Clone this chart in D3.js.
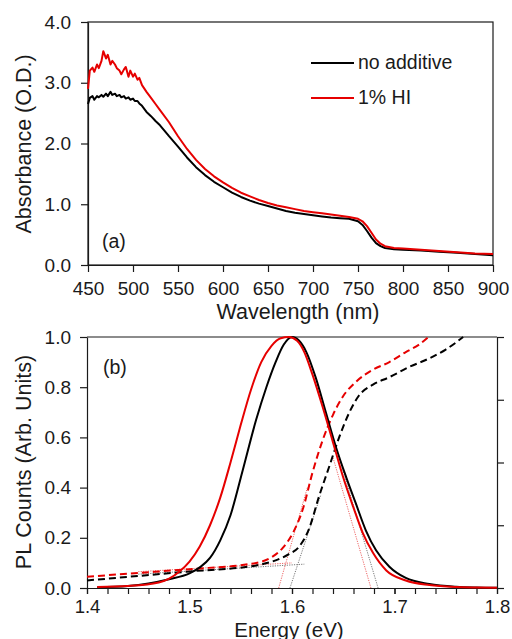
<!DOCTYPE html>
<html>
<head>
<meta charset="utf-8">
<script src="https://cdn.jsdelivr.net/npm/d3@7"></script>
<style>
	body { margin: 0; background: #fff; }
	svg text { font-family: "Liberation Sans", Arial, sans-serif; fill: #1a1a1a; }
	.axis path, .axis line { stroke: #1a1a1a; stroke-width: 1.2; }
</style>
</head>
<body>
<svg id="chart" width="512" height="639"></svg>
<script>
// ---- panel (a): absorbance vs wavelength ----
var wavelength = [450, 452, 455, 457, 460, 462, 465, 467, 470, 472, 475, 477, 480, 482, 485, 487, 490, 492, 495, 497,
	500, 502, 505, 507, 510, 515, 520, 525, 530, 540, 550, 560, 570, 580, 590, 600, 610, 620, 630, 640,
	650, 660, 670, 680, 690, 700, 710, 720, 730, 740, 750, 755, 760, 765, 770, 775, 780, 790, 800, 820,
	840, 860, 880, 900];
var absNoAdditive = [2.65, 2.75, 2.78, 2.72, 2.78, 2.76, 2.80, 2.77, 2.82, 2.78, 2.85, 2.80, 2.82, 2.78, 2.80, 2.76, 2.78, 2.74, 2.76, 2.72,
	2.74, 2.70, 2.70, 2.66, 2.62, 2.52, 2.45, 2.37, 2.30, 2.12, 1.95, 1.77, 1.61, 1.48, 1.37, 1.28, 1.19, 1.12, 1.06, 1.01,
	0.97, 0.93, 0.89, 0.86, 0.84, 0.82, 0.80, 0.78, 0.77, 0.76, 0.72, 0.66, 0.56, 0.45, 0.36, 0.31, 0.28, 0.26, 0.25, 0.24,
	0.22, 0.20, 0.18, 0.16];
var absHI = [2.90, 3.20, 3.25, 3.18, 3.30, 3.24, 3.36, 3.52, 3.40, 3.46, 3.30, 3.36, 3.30, 3.24, 3.20, 3.14, 3.22, 3.26, 3.10, 3.20,
	3.10, 3.15, 3.05, 3.08, 2.96, 2.85, 2.75, 2.65, 2.55, 2.35, 2.12, 1.91, 1.73, 1.58, 1.46, 1.36, 1.27, 1.19, 1.13, 1.07,
	1.02, 0.98, 0.95, 0.92, 0.89, 0.87, 0.85, 0.83, 0.81, 0.79, 0.76, 0.72, 0.64, 0.53, 0.42, 0.35, 0.31, 0.28, 0.27, 0.25,
	0.23, 0.21, 0.19, 0.18];
var wlTicks = [450, 500, 550, 600, 650, 700, 750, 800, 850, 900];
var absTicks = [0, 1, 2, 3, 4];
var legendNames = ['no additive', '1% HI'];
var seriesColors = ['#000000', '#e60000'];

// ---- panel (b): PL (solid) and absorption (dashed) vs energy ----
var plEnergyBlack = [1.41, 1.44, 1.46, 1.48, 1.50, 1.51, 1.52, 1.53, 1.54, 1.552, 1.565, 1.575, 1.584, 1.592, 1.600,
	1.607, 1.614, 1.623, 1.633, 1.643, 1.653, 1.662, 1.672, 1.682, 1.695, 1.711, 1.734, 1.76, 1.78, 1.80];
var plBlack = [0.003, 0.008, 0.018, 0.035, 0.058, 0.082, 0.12, 0.19, 0.29, 0.47, 0.67, 0.80, 0.90, 0.97, 1.0,
	0.985, 0.94, 0.84, 0.70, 0.56, 0.44, 0.34, 0.23, 0.15, 0.085, 0.04, 0.016, 0.005, 0.002, 0.001];
var plEnergyRed = [1.41, 1.44, 1.47, 1.49, 1.50, 1.51, 1.52, 1.53, 1.54, 1.55, 1.56, 1.57, 1.58, 1.589, 1.597,
	1.605, 1.612, 1.62, 1.63, 1.64, 1.65, 1.66, 1.669, 1.679, 1.692, 1.711, 1.734, 1.76, 1.78, 1.80];
var plRed = [0.004, 0.008, 0.022, 0.065, 0.105, 0.165, 0.25, 0.36, 0.50, 0.65, 0.79, 0.90, 0.965, 0.995, 1.0,
	0.985, 0.94, 0.85, 0.72, 0.58, 0.44, 0.32, 0.22, 0.14, 0.07, 0.03, 0.012, 0.004, 0.002, 0.001];
var absEnergyBlack = [1.40, 1.45, 1.50, 1.565, 1.584, 1.597, 1.607, 1.617, 1.626, 1.636, 1.646, 1.656, 1.665, 1.679, 1.695,
	1.714, 1.734, 1.75, 1.767];
var absEdgeBlack = [0.03, 0.048, 0.066, 0.09, 0.11, 0.135, 0.165, 0.24, 0.36, 0.48, 0.60, 0.70, 0.765, 0.81, 0.84,
	0.88, 0.915, 0.95, 1.0];
var absEnergyRed = [1.40, 1.45, 1.50, 1.565, 1.581, 1.591, 1.601, 1.611, 1.62, 1.63, 1.64, 1.65, 1.662, 1.679, 1.695,
	1.711, 1.724, 1.733];
var absEdgeRed = [0.045, 0.06, 0.075, 0.10, 0.125, 0.16, 0.22, 0.32, 0.46, 0.59, 0.69, 0.765, 0.82, 0.87, 0.90,
	0.94, 0.97, 1.0];
// thin dotted fit lines: [E1, v1, E2, v2]
var fitLines = [
	{ pts: [1.45, 0.055, 1.612, 0.095], color: '#777' },
	{ pts: [1.45, 0.065, 1.600, 0.100], color: '#e66' },
	{ pts: [1.587, 0.0, 1.615, 0.40], color: '#e66' },
	{ pts: [1.598, 0.0, 1.628, 0.37], color: '#777' },
	{ pts: [1.677, 0.0, 1.640, 0.52], color: '#e66' },
	{ pts: [1.684, 0.0, 1.646, 0.52], color: '#777' }
];
var eMajor = [1.4, 1.5, 1.6, 1.7, 1.8];
var eMinor = d3.range(1.4, 1.8001, 0.02);
var plTicks = [0, 0.2, 0.4, 0.6, 0.8, 1.0];
var rightTicks = [0, 0.25, 0.5, 0.75, 1.0];

var svg = d3.select('#chart');

// ================= panel (a) =================
var xa = d3.scaleLinear().domain([450, 900]).range([88, 493]);
var ya = d3.scaleLinear().domain([0, 4]).range([265, 22]);

svg.append('rect').attr('x', 88).attr('y', 22).attr('width', 405).attr('height', 243)
	.attr('fill', 'none').attr('stroke', '#1a1a1a').attr('stroke-width', 1.2);

svg.append('g').attr('class', 'axis').attr('transform', 'translate(0,265)')
	.call(d3.axisBottom(xa).tickValues(wlTicks).tickSize(7).tickSizeOuter(0).tickPadding(10))
	.selectAll('text').style('font-size', '19px');
svg.append('g').attr('class', 'axis').attr('transform', 'translate(88,0)')
	.call(d3.axisLeft(ya).tickValues(absTicks).tickFormat(d3.format('.1f')).tickSize(7).tickSizeOuter(0).tickPadding(10))
	.selectAll('text').style('font-size', '19px');

var lineA = function(vals) {
	return d3.line().x(function(d, i) { return xa(wavelength[i]); }).y(function(d) { return ya(d); })(vals);
};
[absNoAdditive, absHI].forEach(function(s, k) {
	svg.append('path').attr('d', lineA(s)).attr('fill', 'none')
		.attr('stroke', seriesColors[k]).attr('stroke-width', 2).attr('stroke-linejoin', 'round');
});

// legend
legendNames.forEach(function(n, k) {
	var ly = [63, 98][k];
	svg.append('line').attr('x1', 311).attr('x2', 354).attr('y1', ly).attr('y2', ly)
		.attr('stroke', seriesColors[k]).attr('stroke-width', 2);
	svg.append('text').attr('x', 358).attr('y', ly + 6).style('font-size', '19.5px').text(n);
});

svg.append('text').attr('x', 102).attr('y', 248).style('font-size', '19.5px').text('(a)');
svg.append('text').attr('transform', 'translate(31,144) rotate(-90)').attr('text-anchor', 'middle')
	.style('font-size', '21.5px').text('Absorbance (O.D.)');
svg.append('text').attr('x', 298).attr('y', 319).attr('text-anchor', 'middle')
	.style('font-size', '21.5px').text('Wavelength (nm)');

// ================= panel (b) =================
var xb = d3.scaleLinear().domain([1.4, 1.8]).range([87, 497]);
var yb = d3.scaleLinear().domain([0, 1]).range([588, 337]);
var yr = d3.scaleLinear().domain([0, 1]).range([588, 337]);

svg.append('line').attr('x1', 87).attr('x2', 497).attr('y1', 337).attr('y2', 337)
	.attr('stroke', '#1a1a1a').attr('stroke-width', 1.2);

svg.append('g').attr('class', 'axis').attr('transform', 'translate(0,588)')
	.call(d3.axisBottom(xb).tickValues(eMinor).tickFormat('').tickSize(6).tickSizeOuter(0));
svg.append('g').attr('class', 'axis').attr('transform', 'translate(0,588)')
	.call(d3.axisBottom(xb).tickValues(eMajor).tickFormat(d3.format('.1f')).tickSize(6).tickSizeOuter(0).tickPadding(6))
	.selectAll('text').style('font-size', '18.5px');
svg.append('g').attr('class', 'axis').attr('transform', 'translate(87,0)')
	.call(d3.axisLeft(yb).tickValues(plTicks).tickFormat(d3.format('.1f')).tickSize(7).tickSizeOuter(0).tickPadding(9))
	.selectAll('text').style('font-size', '19px');
svg.append('g').attr('class', 'axis').attr('transform', 'translate(497,0)')
	.call(d3.axisRight(yr).tickValues(rightTicks).tickFormat('').tickSize(7).tickSizeOuter(0));

var lineB = function(xs, vs) {
	return d3.line().curve(d3.curveMonotoneX)
		.x(function(d, i) { return xb(xs[i]); }).y(function(d) { return yb(d); })(vs);
};

// thin dotted fits
fitLines.forEach(function(f) {
	svg.append('line').attr('x1', xb(f.pts[0])).attr('y1', yb(f.pts[1]))
		.attr('x2', xb(f.pts[2])).attr('y2', yb(f.pts[3]))
		.attr('stroke', f.color).attr('stroke-width', 1).attr('stroke-dasharray', '1.2,1.2');
});

// absorption (dashed)
svg.append('path').attr('d', lineB(absEnergyBlack, absEdgeBlack)).attr('fill', 'none')
	.attr('stroke', seriesColors[0]).attr('stroke-width', 2).attr('stroke-dasharray', '7,4');
svg.append('path').attr('d', lineB(absEnergyRed, absEdgeRed)).attr('fill', 'none')
	.attr('stroke', seriesColors[1]).attr('stroke-width', 2).attr('stroke-dasharray', '7,4');

// PL (solid)
svg.append('path').attr('d', lineB(plEnergyBlack, plBlack))
	.attr('fill', 'none').attr('stroke', seriesColors[0]).attr('stroke-width', 2);
svg.append('path').attr('d', lineB(plEnergyRed, plRed))
	.attr('fill', 'none').attr('stroke', seriesColors[1]).attr('stroke-width', 2);

svg.append('text').attr('x', 103).attr('y', 374).style('font-size', '19.5px').text('(b)');
svg.append('text').attr('transform', 'translate(31,462) rotate(-90)').attr('text-anchor', 'middle')
	.style('font-size', '21.5px').text('PL Counts (Arb. Units)');
svg.append('text').attr('x', 289).attr('y', 636.5).attr('text-anchor', 'middle')
	.style('font-size', '20.5px').text('Energy (eV)');
</script>
</body>
</html>
